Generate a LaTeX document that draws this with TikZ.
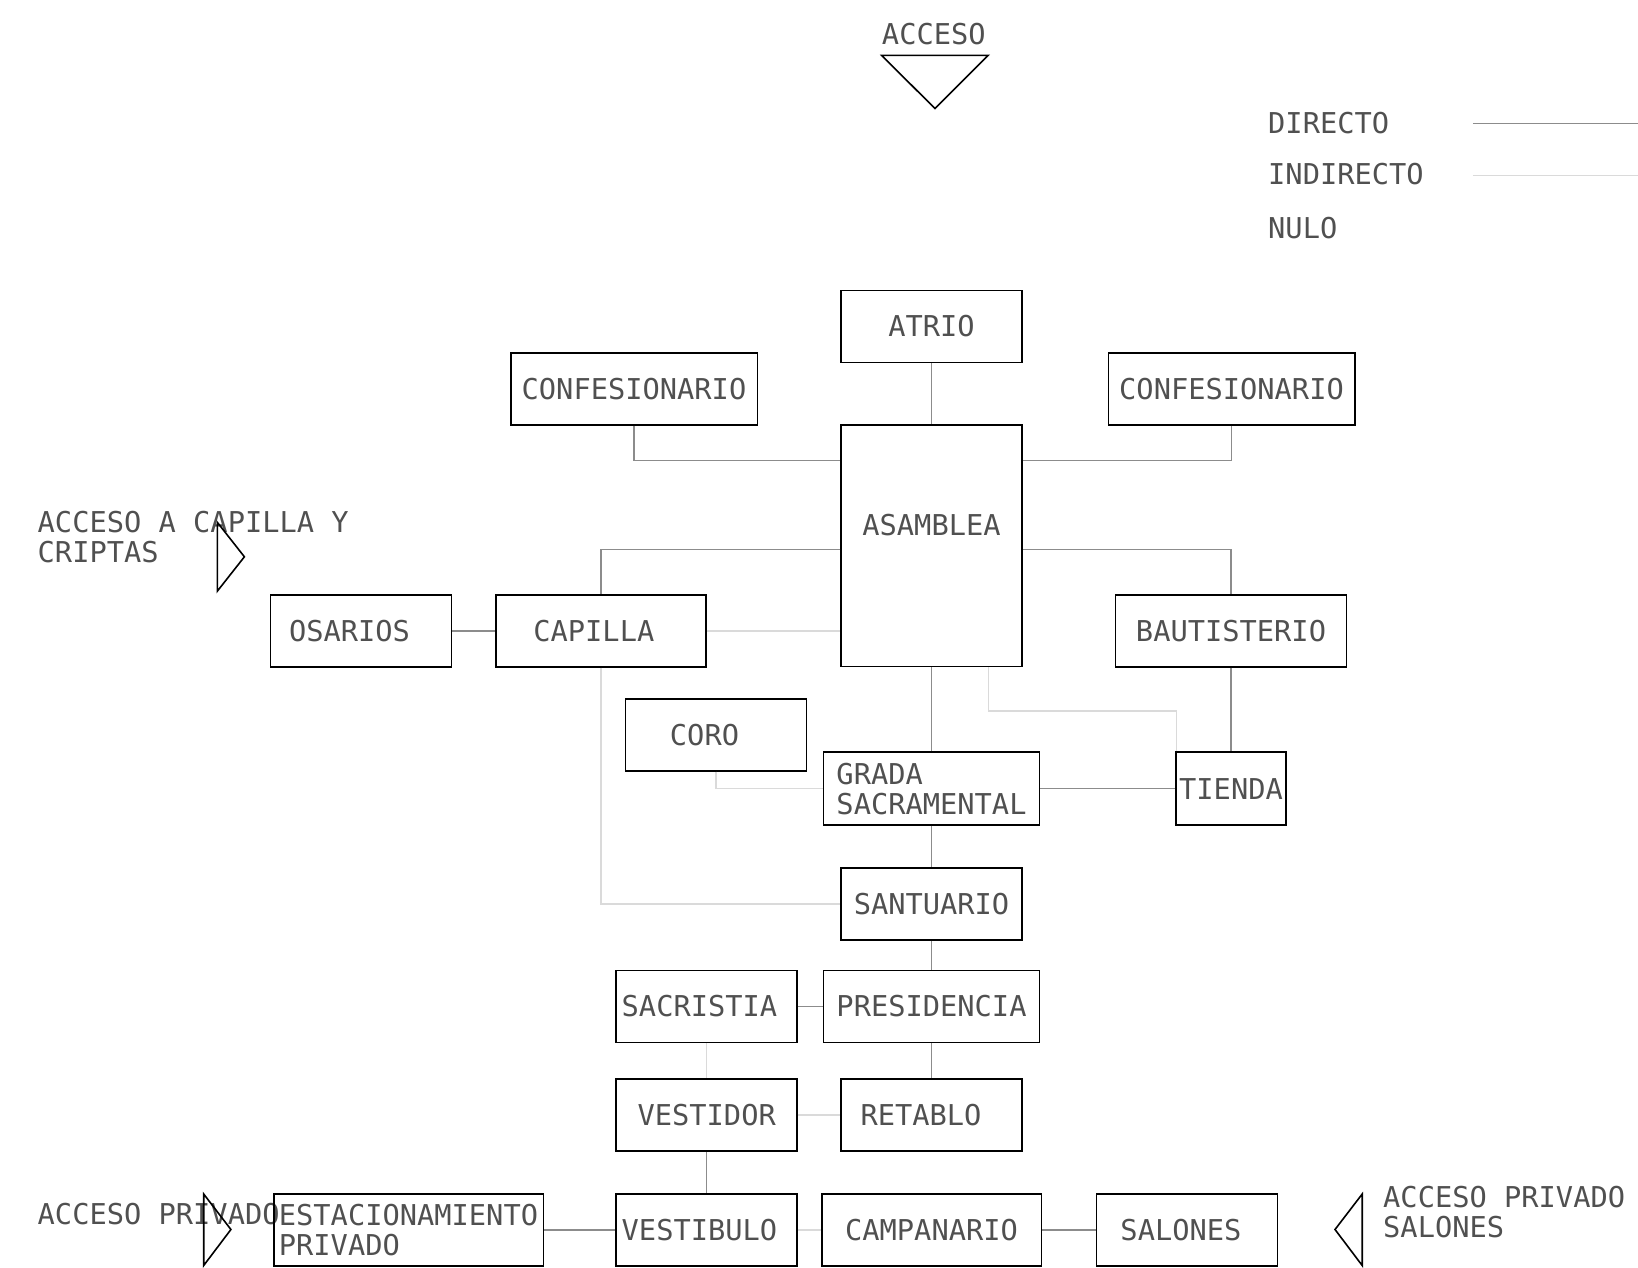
\documentclass[tikz,border=0pt]{standalone}
\usepackage{fontspec}
\setmainfont{DejaVu Sans Mono}
\definecolor{txtgray}{RGB}{80,80,80}
\definecolor{dirgray}{RGB}{140,140,140}
\definecolor{indgray}{RGB}{218,218,218}
\begin{document}
\begin{tikzpicture}[
  x=1pt, y=-1pt,
  font=\fontsize{28.7pt}{30.3pt}\selectfont,
  room/.style={rectangle, draw=black, line width=1.5pt, text=txtgray, align=left,
               inner sep=0pt, minimum width=181pt, minimum height=72pt},
  lbl/.style={inner sep=0pt, text=txtgray, align=left},
  dir_edge/.style={line width=1.3pt, draw=dirgray},
  ind_edge/.style={line width=1.3pt, draw=indgray},
  acc_mark/.style={line width=1.6pt, draw=black, line join=miter}
]
  \useasboundingbox (0,0) rectangle (1638,1268);

  % --- ACCESOS ---
  \node[lbl] (acceso) at (933.8,34.5) {ACCESO};
  \draw[acc_mark] (881.7,55.4) -- (988.2,55.4) -- (935,108.6) -- cycle;

  \node[lbl, anchor=north west] (acc_capilla) at (37.5,510.9) {ACCESO A CAPILLA Y\\CRIPTAS};
  \draw[acc_mark] (217.3,522.3) -- (244.4,556.8) -- (217.3,591.2) -- cycle;

  \node[lbl, anchor=west] (acc_priv) at (37.5,1213.8) {ACCESO PRIVADO};
  \draw[acc_mark] (203.7,1194) -- (230.9,1229.5) -- (203.7,1265.5) -- cycle;

  \node[lbl, anchor=north west] (acc_salones) at (1383,1185.6) {ACCESO PRIVADO\\SALONES};
  \draw[acc_mark] (1362.2,1194) -- (1335,1229.5) -- (1362.2,1265.5) -- cycle;

  % --- SIMBOLOGIA ---
  \node[lbl, anchor=west] (l_dir) at (1268,123.3) {DIRECTO};
  \node[lbl, anchor=west] (l_ind) at (1268,174.5) {INDIRECTO};
  \node[lbl, anchor=west] (l_nul) at (1268,227.7) {NULO};
  \coordinate (l_dir_a) at (1472.9,123.3);
  \coordinate (l_dir_b) at (1638,123.3);
  \coordinate (l_ind_a) at (1472.9,175.5);
  \coordinate (l_ind_b) at (1638,175.5);
  \draw[dir_edge] (l_dir_a) -- (l_dir_b);
  \draw[ind_edge] (l_ind_a) -- (l_ind_b);

  % --- ESPACIOS ---
  \node[room] (atrio)       at (931.5,326.5) {ATRIO};
  \node[room, minimum width=246.5pt] (conf_l) at (634,389.1)  {CONFESIONARIO};
  \node[room, minimum width=246.5pt] (conf_r) at (1231.5,389.1) {CONFESIONARIO};
  \node[room, minimum height=241.3pt] (asamblea) at (931.5,545.8) {\raisebox{10.5pt}[0pt][0pt]{ASAMBLEA}};
  \node[room] (osarios)     at (361,631)   {OSARIOS\hspace*{23pt}};
  \node[room, minimum width=210pt] (capilla) at (601.1,631) {CAPILLA\hspace*{14.5pt}};
  \node[room, minimum width=231pt] (bautisterio) at (1231,631) {BAUTISTERIO};
  \node[room] (coro)        at (716,734.9) {CORO\hspace*{23pt}};
  \node[room, minimum width=216pt, minimum height=73pt] (grada) at (931.5,788.7) {GRADA\\SACRAMENTAL};
  \node[room, minimum width=110pt, minimum height=73pt] (tienda) at (1231,788.7) {TIENDA};
  \node[room] (santuario)   at (931.5,904.1) {SANTUARIO};
  \node[room] (sacristia)   at (706.7,1006.5) {SACRISTIA\hspace*{14.5pt}};
  \node[room, minimum width=216pt] (presidencia) at (931.5,1006.5) {PRESIDENCIA};
  \node[room] (vestidor)    at (706.7,1115.1) {VESTIDOR};
  \node[room] (retablo)     at (931.5,1115.1) {RETABLO\hspace*{21pt}};
  \node[room, minimum width=269.5pt] (estac) at (408.5,1230) {ESTACIONAMIENTO\\PRIVADO};
  \node[room] (vestibulo)   at (706.7,1230) {VESTIBULO\hspace*{14.5pt}};
  \node[room, minimum width=219.5pt] (campanario) at (931.5,1230) {CAMPANARIO};
  \node[room] (salones)     at (1187.2,1230) {SALONES\hspace*{12.5pt}};

  % --- RELACIONES ---
  \draw[dir_edge] (atrio) -- (asamblea);
  \draw[dir_edge] (conf_l.south) |- (asamblea.west |- 0,460.7);
  \draw[dir_edge] (conf_r.south) |- (asamblea.east |- 0,460.7);
  \draw[dir_edge] (asamblea.west |- 0,549.5) -| (capilla.north);
  \draw[dir_edge] (asamblea.east |- 0,549.5) -| (bautisterio.north);
  \draw[ind_edge] (capilla.east) -- (capilla.east -| asamblea.west);
  \draw[dir_edge] (osarios) -- (capilla);
  \draw[dir_edge] (asamblea) -- (grada);
  \draw[ind_edge] ([xshift=57pt]asamblea.south) -- ++(0,43.8) -| ([xshift=1pt]tienda.north west);
  \draw[dir_edge] (bautisterio) -- (tienda);
  \draw[ind_edge] (coro.south) |- (grada.west);
  \draw[dir_edge] (grada) -- (tienda);
  \draw[ind_edge] (capilla.south) |- (santuario.west);
  \draw[dir_edge] (grada) -- (santuario);
  \draw[dir_edge] (santuario) -- (presidencia);
  \draw[dir_edge] (sacristia) -- (presidencia);
  \draw[ind_edge] (sacristia) -- (vestidor);
  \draw[dir_edge] (presidencia) -- (retablo);
  \draw[ind_edge] (vestidor) -- (retablo);
  \draw[dir_edge] (vestidor) -- (vestibulo);
  \draw[dir_edge] (estac) -- (vestibulo);
  \draw[ind_edge] (vestibulo) -- (campanario);
  \draw[dir_edge] (campanario) -- (salones);
\end{tikzpicture}
\end{document}
